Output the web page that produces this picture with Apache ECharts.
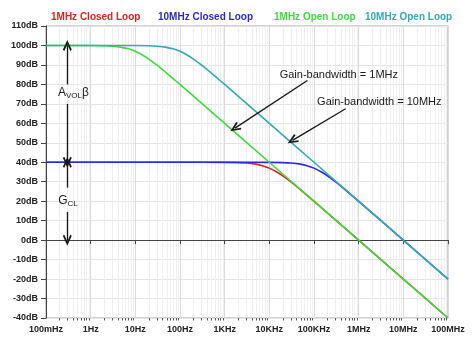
<!DOCTYPE html>
<html>
<head>
<meta charset="utf-8">
<script src="https://cdn.jsdelivr.net/npm/echarts@6/dist/echarts.min.js"></script>
<style>
html, body { margin: 0; padding: 0; background: #ffffff; }
#chart { width: 474px; height: 351px; }
</style>
</head>
<body>
<div id="chart"></div>
<script>
// series names + colours
var seriesNames = ['1MHz Closed Loop', '10MHz Closed Loop', '1MHz Open Loop', '10MHz Open Loop']
var seriesColors = ['#e0201c', '#2a2ad0', '#3ddc3d', '#33a9b5']

// 1MHz closed loop (red)
var redFreq = [0.1, 100, 1e3, 2e3, 3e3, 5e3, 7e3, 1e4, 1.5e4, 2e4, 3e4, 5e4, 7e4, 1e5, 1e6, 1e7, 1e8]
var redGain = [40, 40, 39.96, 39.83, 39.63, 39.03, 38.26, 36.99, 34.88, 33.01, 30.0, 25.85, 23.01, 19.96, 0, -20, -40]

// 10MHz closed loop (blue)
var blueFreq = [0.1, 1e3, 1e4, 2e4, 3e4, 5e4, 7e4, 1e5, 1.5e5, 2e5, 3e5, 5e5, 7e5, 1e6, 1e7, 1e8]
var blueGain = [40, 40, 39.96, 39.83, 39.63, 39.03, 38.26, 36.99, 34.88, 33.01, 30.0, 25.85, 23.01, 19.96, 0, -20]

// 1MHz open loop (green)
var greenFreq = [0.1, 1, 2, 3, 5, 7, 10, 15, 20, 30, 50, 70, 100, 1e3, 1e4, 1e5, 1e6, 1e7, 1e8]
var greenGain = [100, 99.96, 99.83, 99.63, 99.03, 98.26, 96.99, 94.88, 93.01, 90.0, 85.85, 83.01, 79.96, 60, 40, 20, 0, -20, -40]

// 10MHz open loop (teal)
var tealFreq = [0.1, 1, 10, 20, 30, 50, 70, 100, 150, 200, 300, 500, 700, 1e3, 1e4, 1e5, 1e6, 1e7, 1e8]
var tealGain = [100, 100, 99.96, 99.83, 99.63, 99.03, 98.26, 96.99, 94.88, 93.01, 90.0, 85.85, 83.01, 79.96, 60, 40, 20, 0, -20]

// x tick labels (one per decade)
var xTickExp = [-1, 0, 1, 2, 3, 4, 5, 6, 7, 8]
var xTickLabels = ['100mHz', '1Hz', '10Hz', '100Hz', '1KHz', '10KHz', '100KHz', '1MHz', '10MHz', '100MHz']

// minor grid positions
var decades = [0.1, 1, 10, 100, 1e3, 1e4, 1e5, 1e6, 1e7]
var minorSteps = [2, 3, 4, 5, 6, 7, 8, 9]

var font = 'Arial, "Liberation Sans", sans-serif'
// open V arrow head
var arrowHead = 'path://M0,9 L5,0 L10,9 L8.3,10 L5,3.8 L1.7,10 Z'

function pairs(xs, ys) {
  var out = []
  for (var i = 0; i < xs.length; i++) out.push([xs[i], ys[i]])
  return out
}

var minorData = []
decades.forEach(function (d) {
  minorSteps.forEach(function (m) { minorData.push([d * m, -40]) })
})

function arrow(x1, y1, x2, y2) {
  return [{ coord: [x1, y1] }, { coord: [x2, y2] }]
}
function note(x, y, text) {
  return { coord: [x, y], value: text }
}

var chart = echarts.init(document.getElementById('chart'))
chart.setOption({
  animation: false,
  textStyle: { fontFamily: font },
  grid: {
    left: 46, right: 26, top: 26, bottom: 33,
    show: true, borderColor: '#a0a0a0', borderWidth: 1
  },
  legend: seriesNames.map(function (n, i) {
    return {
      data: [{ name: n, textStyle: { color: seriesColors[i] } }],
      left: [45, 152, 268, 359][i],
      top: 12,
      padding: 0,
      itemWidth: 0,
      itemHeight: 0,
      selectedMode: false,
      textStyle: { fontSize: 10, fontWeight: 'bold', fontFamily: font }
    }
  }),
  xAxis: {
    type: 'log',
    logBase: 10,
    min: 0.1,
    max: 1e8,
    splitNumber: 9,
    axisLine: { show: true, lineStyle: { color: '#444', width: 1 } },
    axisTick: { show: true, length: 4, lineStyle: { color: '#444' } },
    axisLabel: {
      color: '#222', fontSize: 9, fontWeight: 'bold', margin: 7,
      formatter: function (v) {
        var e = Math.round(Math.log10(v))
        var k = xTickExp.indexOf(e)
        return k >= 0 ? xTickLabels[k] : ''
      }
    },
    splitLine: { show: true, lineStyle: { color: '#dadada', width: 1 } }
  },
  yAxis: {
    type: 'value',
    min: -40,
    max: 110,
    interval: 10,
    axisLine: { show: true, lineStyle: { color: '#444', width: 1 } },
    axisTick: { show: true, length: 5, lineStyle: { color: '#444' } },
    axisLabel: {
      color: '#222', fontSize: 9, fontWeight: 'bold', margin: 8,
      formatter: '{value}dB'
    },
    splitLine: { show: true, lineStyle: { color: '#e4e4e4', width: 1 } }
  },
  series: [
    {
      name: 'minor',
      type: 'custom',
      clip: false,
      silent: true,
      z: 0,
      data: minorData,
      renderItem: function (params, api) {
        var f = api.value(0)
        var top = api.coord([f, 110])
        var bot = api.coord([f, -40])
        var x = Math.round(bot[0]) + 0.5
        return {
          type: 'group',
          children: [
            { type: 'line', shape: { x1: x, y1: top[1], x2: x, y2: bot[1] }, style: { stroke: '#efefef', lineWidth: 1 } },
            { type: 'line', shape: { x1: x, y1: bot[1], x2: x, y2: bot[1] + 2.5 }, style: { stroke: '#555', lineWidth: 1 } }
          ]
        }
      }
    },
    {
      name: seriesNames[0], type: 'line', data: pairs(redFreq, redGain), smooth: 0.3,
      showSymbol: false, color: seriesColors[0], lineStyle: { width: 1.6 }, z: 2
    },
    {
      name: seriesNames[1], type: 'line', data: pairs(blueFreq, blueGain), smooth: 0.3,
      showSymbol: false, color: seriesColors[1], lineStyle: { width: 1.6 }, z: 2
    },
    {
      name: seriesNames[2], type: 'line', data: pairs(greenFreq, greenGain), smooth: 0.3,
      showSymbol: false, color: seriesColors[2], lineStyle: { width: 1.6 }, z: 2
    },
    {
      name: seriesNames[3], type: 'line', data: pairs(tealFreq, tealGain), smooth: 0.3,
      showSymbol: false, color: seriesColors[3], lineStyle: { width: 1.6 }, z: 2
    },
    {
      name: 'notes',
      type: 'line',
      data: [],
      z: 5,
      markLine: {
        silent: true,
        symbol: ['none', arrowHead],
        symbolSize: [9, 11],
        label: { show: false },
        lineStyle: { color: '#1a1a1a', width: 1.4, type: 'solid' },
        emphasis: { disabled: true },
        data: [
          arrow(0.3, 80, 0.3, 100),
          arrow(0.3, 70, 0.3, 40),
          arrow(0.3, 27, 0.3, 40),
          arrow(0.3, 14.5, 0.3, 0),
          arrow(7.1e4, 82, 1.7e3, 57.5),
          arrow(5.1e5, 67.5, 3.3e4, 51.2)
        ]
      },
      markPoint: {
        silent: true,
        symbol: 'rect',
        symbolSize: 1,
        itemStyle: { color: 'rgba(0,0,0,0)' },
        label: {
          show: true,
          position: 'inside',
          color: '#1a1a1a',
          fontSize: 11,
          fontFamily: font,
          formatter: function (p) { return p.value },
          rich: {
            a: { fontSize: 12, color: '#1a1a1a', fontFamily: font },
            s: { fontSize: 8, color: '#1a1a1a', fontFamily: font, padding: [6, 0, 0, 0] }
          }
        },
        data: [
          note(3.6e5, 85, 'Gain-bandwidth = 1MHz'),
          note(2.9e6, 70.8, 'Gain-bandwidth = 10MHz'),
          note(0.41, 75.5, '{a|A}{s|VOL}{a|β}'),
          note(0.31, 20.2, '{a|G}{s|CL}')
        ]
      }
    }
  ]
})
</script>
</body>
</html>
